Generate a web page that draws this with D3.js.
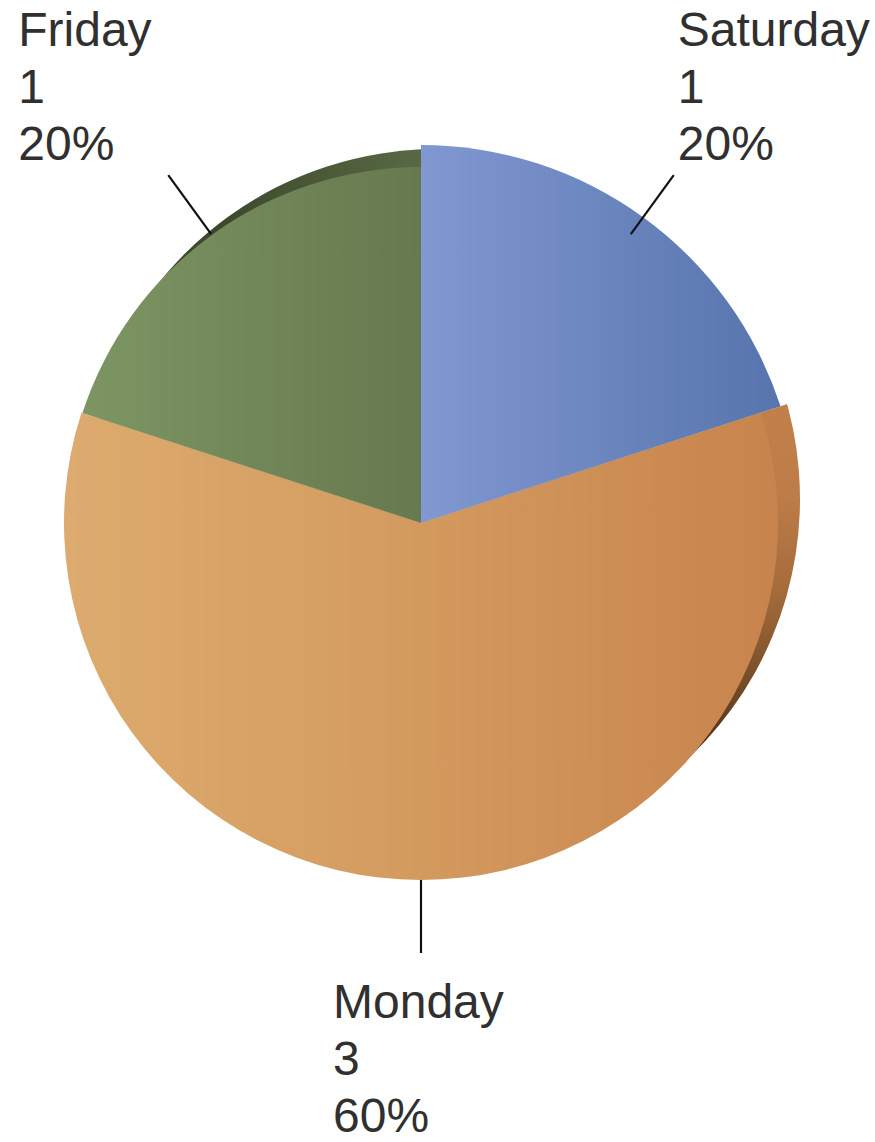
<!DOCTYPE html>
<html>
<head>
<meta charset="utf-8">
<script src="https://cdn.jsdelivr.net/npm/d3@7"></script>
<style>
  html, body { margin: 0; padding: 0; background: #ffffff; }
  svg { display: block; }
  text { font-family: "Liberation Sans", Arial, sans-serif; }
</style>
</head>
<body>
<svg id="chart" width="875" height="1142"></svg>
<script>
// ---- data ----
const categories = ["Saturday", "Monday", "Friday"];
const values = [1, 3, 1];

// ---- styles / layout ----
const center = { x: 421, y: 523 };
const faceRadius = { Saturday: 378, Monday: 357, Friday: 356 };
const sideShift = { Monday: [22, -24], Friday: [16, -18] };
const faceStops = {
  Saturday: [[421, "#8198d1"], [790, "#5573ac"]],
  Monday:   [[65, "#ddab6f"], [421, "#d39a5e"], [800, "#c7824c"]],
  Friday:   [[80, "#7d9563"], [421, "#67794f"]]
};
const sideStops = {
  Monday: { dir: "v", stops: [[390, "#c5814b"], [520, "#bd7c48"], [620, "#a36a3a"], [700, "#7a4e28"], [775, "#4e3018"]] },
  Friday: { dir: "h", stops: [[200, "#3c482c"], [440, "#5e6e48"]] }
};
const labelOffset = {
  Saturday: { dx: 4, mode: "above" },
  Friday:   { dx: -150, mode: "above" },
  Monday:   { dx: -88, mode: "below" }
};
const leaderInner = 357, leaderOuter = 430;
const fontSize = 48, lineHeight = 57;

const svg = d3.select("#chart");
const defs = svg.append("defs");

function makeGradient(id, stops, dir) {
  const xs = stops.map(s => s[0]);
  const lo = d3.min(xs), hi = d3.max(xs);
  const g = defs.append("linearGradient").attr("id", id)
    .attr("gradientUnits", "userSpaceOnUse");
  if (dir === "v") g.attr("x1", 0).attr("x2", 0).attr("y1", lo).attr("y2", hi);
  else g.attr("x1", lo).attr("x2", hi).attr("y1", 0).attr("y2", 0);
  stops.forEach(s => g.append("stop")
    .attr("offset", (s[0] - lo) / (hi - lo)).attr("stop-color", s[1]));
}
categories.forEach(c => makeGradient("face-" + c, faceStops[c], "h"));
Object.keys(sideStops).forEach(c => makeGradient("side-" + c, sideStops[c].stops, sideStops[c].dir));

const total = d3.sum(values);
const pie = d3.pie().sort(null).value(d => d.value).startAngle(0).endAngle(2 * Math.PI);
const arcs = pie(categories.map((c, i) => ({ name: c, value: values[i] })));

const arcGen = d3.arc().innerRadius(0).outerRadius(d => faceRadius[d.data.name]);
const wedgeGen = d3.arc().innerRadius(0).outerRadius(520);

const g = svg.append("g").attr("transform", `translate(${center.x},${center.y})`);

// sides (3D rims) beneath, clipped to their own angular wedge
const sideLayer = g.append("g");
arcs.filter(d => sideShift[d.data.name]).forEach(d => {
  const s = sideShift[d.data.name];
  const cid = "clip-" + d.data.name;
  defs.append("clipPath").attr("id", cid)
    .append("path").attr("d", wedgeGen(d));
  sideLayer.append("g").attr("clip-path", `url(#${cid})`)
    .append("path")
    .attr("d", arcGen(d))
    .attr("transform", `translate(${s[0]},${s[1]})`)
    .attr("fill", `url(#side-${d.data.name})`);
});

// faces: orange, green, then blue on top
const order = ["Monday", "Friday", "Saturday"];
const faceLayer = g.append("g");
order.forEach(name => {
  const d = arcs.find(a => a.data.name === name);
  faceLayer.append("path")
    .attr("d", arcGen(d))
    .attr("fill", `url(#face-${name})`);
});

// gradients are defined in page coordinates; shift into the centered group
defs.selectAll("linearGradient").attr("gradientTransform", `translate(${-center.x},${-center.y})`);

// leader lines & labels
const fmtPct = v => Math.round(v / total * 100) + "%";
const labelLayer = svg.append("g");
arcs.forEach(d => {
  const mid = (d.startAngle + d.endAngle) / 2;
  const dx = Math.sin(mid), dy = -Math.cos(mid);
  const p0 = [center.x + dx * leaderInner, center.y + dy * leaderInner];
  const p1 = [center.x + dx * leaderOuter, center.y + dy * leaderOuter];
  labelLayer.append("line")
    .attr("x1", p0[0]).attr("y1", p0[1]).attr("x2", p1[0]).attr("y2", p1[1])
    .attr("stroke", "#111").attr("stroke-width", 2.2);

  const lines = [d.data.name, String(d.data.value), fmtPct(d.data.value)];
  const off = labelOffset[d.data.name];
  const x = p1[0] + off.dx;
  const firstBaseline = off.mode === "above"
    ? p1[1] - 15 - lineHeight * (lines.length - 1)
    : p1[1] + 65;
  const t = labelLayer.append("text")
    .attr("x", x).attr("y", firstBaseline)
    .attr("font-size", fontSize).attr("fill", "#303030");
  lines.forEach((ln, i) => {
    t.append("tspan").attr("x", x).attr("y", firstBaseline + i * lineHeight).text(ln);
  });
});
</script>
</body>
</html>
